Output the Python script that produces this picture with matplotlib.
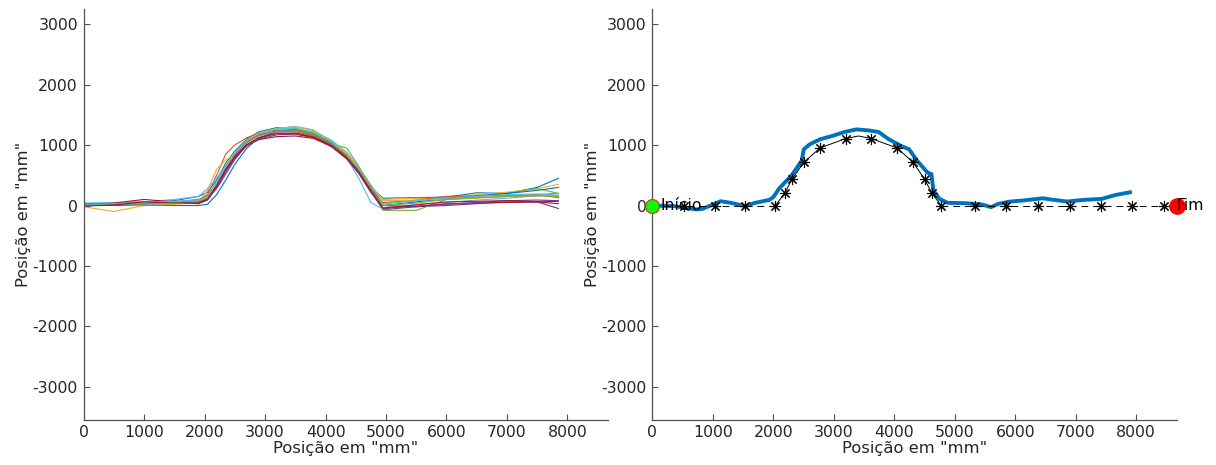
import numpy as np
import matplotlib
matplotlib.use("Agg")
import matplotlib.pyplot as plt

# ---- dados: trajetorias medidas (grafico da esquerda) ----
x_traj = [0, 500, 1000, 1500, 1900, 2050, 2200, 2350, 2500, 2700, 2900, 3200, 3500,
          3800, 4100, 4350, 4550, 4750, 4950, 5500, 6000, 6500, 7000, 7500, 7850]

y_t01 = [20, 40, 60, 80, 150, 220, 420, 700, 900, 1100, 1220, 1290, 1280, 1200, 1040, 830, 600, 300, 120, 130, 140, 210, 200, 300, 450]
y_t02 = [0, 20, 30, 60, 90, 180, 500, 850, 1000, 1120, 1200, 1250, 1240, 1160, 1000, 780, 540, 220, 50, 80, 100, 130, 150, 180, 200]
y_t03 = [-20, -100, 0, 20, 50, 250, 600, 750, 850, 980, 1100, 1230, 1270, 1210, 1060, 850, 620, 330, 100, 120, 120, 180, 220, 280, 350]
y_t04 = [0, 20, 40, 60, 80, 120, 280, 520, 760, 1000, 1120, 1190, 1200, 1140, 990, 780, 540, 230, -70, -20, 0, 30, 60, 60, -50]
y_t05 = [30, 40, 50, 60, 80, 110, 330, 600, 820, 1040, 1160, 1240, 1260, 1190, 1020, 950, 650, 280, -80, -80, 100, 150, 200, 280, 200]
y_t06 = [40, 50, 60, 100, 150, 280, 450, 650, 850, 1050, 1180, 1270, 1310, 1250, 1060, 790, 450, 50, -60, 20, 50, 90, 120, 160, 200]
y_t07 = [0, 40, 100, 60, 30, 90, 300, 580, 800, 1000, 1090, 1140, 1150, 1110, 980, 800, 610, 320, 0, -20, 30, 40, 50, 60, 70]
y_t08 = [10, 0, 10, 0, 0, 20, 180, 420, 680, 950, 1120, 1230, 1250, 1180, 1020, 820, 590, 280, 0, 60, 120, 160, 200, 250, 300]
y_t09 = [10, 30, 50, 60, 100, 160, 380, 650, 860, 1060, 1170, 1230, 1220, 1150, 1000, 810, 570, 260, 30, 90, 150, 160, 170, 180, 130]
y_t10 = [0, 30, 40, 60, 70, 130, 360, 640, 870, 1080, 1200, 1280, 1300, 1240, 1070, 860, 610, 300, 80, 90, 100, 120, 150, 160, 170]
y_t11 = [30, 30, 40, 50, 60, 100, 300, 560, 780, 990, 1100, 1170, 1180, 1120, 970, 770, 530, 220, -50, -10, 20, 50, 80, 90, 80]
y_t12 = [0, 20, 30, 50, 70, 120, 340, 610, 830, 1040, 1150, 1230, 1240, 1180, 1030, 830, 590, 270, 0, 40, 100, 130, 150, 160, 150]
y_t13 = [20, 30, 50, 70, 90, 150, 380, 660, 880, 1080, 1190, 1270, 1280, 1220, 1080, 880, 640, 340, 30, 80, 120, 150, 180, 190, 170]
y_t14 = [-10, 10, 60, 40, 40, 110, 330, 600, 810, 1010, 1120, 1200, 1190, 1130, 990, 790, 560, 250, -40, 10, 60, 70, 80, 60, 30]

# ---- dados: caminho medio (azul) e caminho de referencia (preto) ----
x_media = [0, 360, 730, 830, 1030, 1130, 1300, 1530, 1700, 1935, 2000, 2100, 2300, 2470, 2505,
           2605, 2773, 2974, 3175, 3375, 3577, 3744, 3912, 4113, 4246, 4380, 4548, 4615, 4648,
           4749, 4883, 5184, 5452, 5599, 5720, 5921, 6122, 6457, 6591, 6859, 7127, 7428, 7662, 7897]
y_media = [0, -10, -65, -55, 27, 71, 44, -10, 44, 93, 137, 285, 493, 739, 930,
           1013, 1095, 1150, 1215, 1259, 1242, 1215, 1095, 985, 930, 739, 547, 520, 246,
           109, 44, 38, 16, -27, 27, 66, 82, 120, 99, 66, 93, 109, 175, 219]

x_ref_ini = [0, 530, 1030, 1540, 2036]
y_ref_ini = [0, 0, 0, 0, 0]
x_ref_curva = [2036, 2190, 2311, 2505, 2773, 3195, 3410, 3624, 4046, 4313, 4501, 4622, 4776]
y_ref_curva = [0, 203, 438, 712, 952, 1106, 1150, 1106, 952, 712, 438, 203, 0]
x_ref_fim = [4776, 5338, 5854, 6376, 6899, 7415, 7930, 8453, 8667]
y_ref_fim = [0, 0, 0, 0, 0, 0, 0, 0, 0]
marca_curva = [2190, 2311, 2505, 2773, 3195, 3624, 4046, 4313, 4501, 4622]
marca_curva_y = [203, 438, 712, 952, 1106, 1106, 952, 712, 438, 203]

ponto_inicio = (0, 0)
ponto_fim = (8667, 0)

cores = ['#0072BD', '#D95319', '#EDB120', '#7E2F8E', '#77AC30', '#4DBEEE', '#A2142F']
trajs = [y_t01, y_t02, y_t03, y_t04, y_t05, y_t06, y_t07,
         y_t08, y_t09, y_t10, y_t11, y_t12, y_t13, y_t14]

txt = '#262626'
fs = 11.3
plt.rcParams['font.family'] = ['DejaVu Sans']
plt.rcParams['axes.unicode_minus'] = False

fig = plt.figure(figsize=(12.16, 4.65), dpi=100)
ax1 = fig.add_axes([0.0687, 0.0978, 0.4313, 0.8828])
ax2 = fig.add_axes([0.5364, 0.0978, 0.4313, 0.8828])

for i, y in enumerate(trajs):
    ax1.plot(x_traj, y, color=cores[i % 7], lw=0.8)

ax2.plot(x_media, y_media, color='#0072BD', lw=2.8, solid_joinstyle='round')
ast = (8, 2, 0)
ax2.plot(x_ref_ini, y_ref_ini, color='k', lw=0.7, ls=(0, (7, 5)), marker=ast, ms=8, mew=0.8)
ax2.plot(x_ref_curva, y_ref_curva, color='k', lw=0.7)
ax2.plot(marca_curva, marca_curva_y, ls='none', color='k', marker=ast, ms=8, mew=0.8)
ax2.plot(x_ref_fim, y_ref_fim, color='k', lw=0.7, ls=(0, (7, 5)), marker=ast, ms=8, mew=0.8,
         markevery=list(range(len(x_ref_fim) - 1)))
ax2.text(130, 0, 'Início', ha='left', va='center', fontsize=fs, color='k')
ax2.plot(*ponto_inicio, 'o', ms=10, mfc='#00FF00', mec='#FF2020', mew=0.8, clip_on=False, zorder=5)
ax2.plot(*ponto_fim, 'o', ms=11, mfc='#FF0000', mec='#FF0000', clip_on=False, zorder=5)
ax2.text(ponto_fim[0], 0, 'Fim', ha='left', va='center', fontsize=fs, color='k', zorder=6)

for ax in (ax1, ax2):
    ax.set_xlim(0, 8670)
    ax.set_ylim(-3540, 3250)
    ax.set_xticks(np.arange(0, 8001, 1000))
    ax.set_yticks(np.arange(-3000, 3001, 1000))
    ax.spines['top'].set_visible(False)
    ax.spines['right'].set_visible(False)
    for s in ('left', 'bottom'):
        ax.spines[s].set_color('#505050')
        ax.spines[s].set_linewidth(0.9)
    ax.tick_params(direction='in', length=4, width=0.8, colors='#505050',
                   labelcolor=txt, labelsize=fs, pad=4)
    ax.set_xlabel('Posição em "mm"', color=txt, fontsize=fs + 0.5, labelpad=1)
    ax.set_ylabel('Posição em "mm"', color=txt, fontsize=fs + 0.5, labelpad=1)

fig.savefig('out.png', dpi=100)
